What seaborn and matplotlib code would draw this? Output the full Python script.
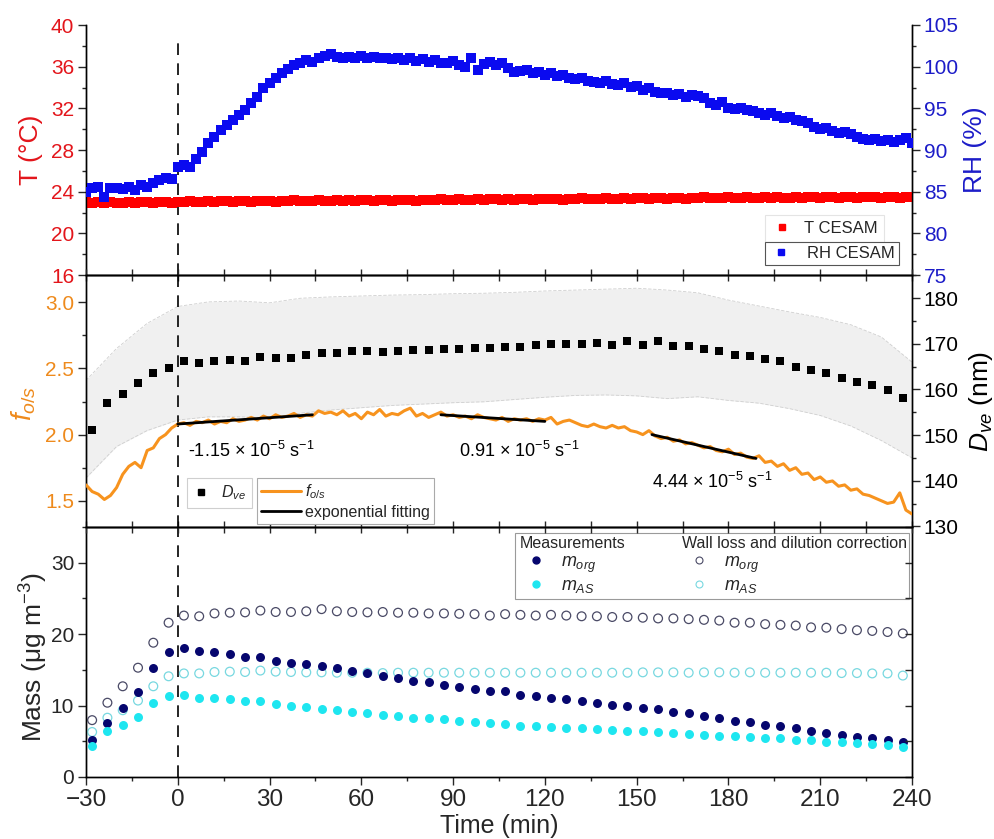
import numpy as np
import pandas as pd
import matplotlib
matplotlib.use("Agg")
import matplotlib.pyplot as plt
import seaborn as sns
from matplotlib.lines import Line2D
from matplotlib.patches import Rectangle
from matplotlib.ticker import MultipleLocator

# ---------------- data ----------------
# environmental chamber data, 2-min resolution, -30..240 min
t_env = np.arange(-30, 241, 2)
temp_c = [23.0, 22.9, 23.0, 22.9, 23.0, 22.9, 22.9, 23.0, 22.9, 23.0, 23.0, 22.9, 23.0, 23.0, 22.9, 23.0,
          23.0, 23.1, 23.0, 23.0, 23.1, 23.0, 23.1, 23.1, 23.0, 23.1, 23.1, 23.0, 23.1, 23.1, 23.1, 23.0, 23.1, 23.1, 23.2, 23.1,
          23.1, 23.1, 23.2, 23.1, 23.1, 23.2, 23.1, 23.2, 23.1, 23.2, 23.2, 23.1, 23.2, 23.2, 23.1, 23.2, 23.2, 23.2, 23.1, 23.2,
          23.2, 23.2, 23.3, 23.2, 23.2, 23.3, 23.2, 23.2, 23.3, 23.2, 23.3, 23.3, 23.2, 23.3, 23.2, 23.3, 23.3, 23.2, 23.3, 23.3,
          23.3, 23.3, 23.2, 23.3, 23.3, 23.4, 23.3, 23.3, 23.3, 23.4, 23.3, 23.3, 23.4, 23.3, 23.4, 23.4, 23.3, 23.4, 23.4, 23.3,
          23.4, 23.4, 23.3, 23.4, 23.4, 23.5, 23.4, 23.4, 23.4, 23.5, 23.4, 23.4, 23.5, 23.4, 23.4, 23.5, 23.4, 23.5, 23.4, 23.4,
          23.5, 23.4, 23.5, 23.5, 23.4, 23.5, 23.5, 23.4, 23.5, 23.5, 23.4, 23.5, 23.5, 23.5, 23.4, 23.5, 23.5, 23.4, 23.5, 23.5]
rh_pct = [85.0, 85.5, 85.6, 84.4, 85.4, 85.5, 85.3, 85.6, 85.2, 85.8, 85.6, 86.0, 86.4, 86.6, 86.5, 88.0,
          88.2, 88.0, 88.9, 89.8, 90.8, 91.6, 92.4, 93.0, 93.6, 94.2, 94.8, 95.6, 96.4, 97.4, 98.0, 98.6, 99.2, 99.7, 100.2, 100.5,
          100.8, 100.6, 101.0, 101.3, 101.5, 101.2, 101.0, 101.2, 101.1, 101.3, 101.0, 101.2, 101.1, 101.0, 100.9, 101.1, 100.8, 101.0, 100.7, 100.9,
          100.6, 100.8, 100.5, 100.4, 100.7, 100.2, 100.0, 101.0, 99.6, 100.3, 100.6, 100.2, 100.4, 99.8, 99.4, 99.5, 99.6, 99.3, 99.4, 99.0,
          99.2, 98.9, 99.0, 98.6, 98.5, 98.7, 98.3, 98.2, 98.0, 98.3, 97.9, 97.8, 98.0, 97.6, 97.7, 97.2, 97.5, 97.0, 96.8, 96.9,
          96.6, 96.7, 96.4, 96.6, 96.5, 96.2, 95.6, 95.4, 95.8, 95.0, 94.9, 95.0, 94.8, 94.7, 94.5, 94.2, 94.4, 94.1, 93.8, 94.0,
          93.6, 93.5, 93.2, 92.8, 92.5, 92.7, 92.3, 92.0, 92.2, 91.9, 91.6, 91.3, 91.2, 91.3, 91.1, 91.2, 91.0, 91.2, 91.4, 90.9]
f_os = [1.62, 1.57, 1.55, 1.51, 1.54, 1.60, 1.70, 1.76, 1.79, 1.75, 1.88, 1.90, 1.97, 2.00, 2.05, 2.08,
        2.09, 2.07, 2.10, 2.09, 2.11, 2.08, 2.10, 2.09, 2.12, 2.10, 2.11, 2.13, 2.11, 2.14, 2.12, 2.15, 2.13, 2.14, 2.16, 2.13,
        2.15, 2.14, 2.18, 2.16, 2.17, 2.15, 2.18, 2.14, 2.16, 2.12, 2.17, 2.15, 2.19, 2.14, 2.16, 2.15, 2.18, 2.20, 2.14, 2.16,
        2.13, 2.15, 2.17, 2.14, 2.15, 2.13, 2.14, 2.12, 2.15, 2.13, 2.12, 2.11, 2.13, 2.10, 2.12, 2.11, 2.12, 2.10, 2.12, 2.11,
        2.13, 2.08, 2.10, 2.11, 2.09, 2.07, 2.06, 2.08, 2.06, 2.05, 2.07, 2.05, 2.06, 2.03, 2.02, 2.00, 2.03, 1.99, 1.97, 1.98,
        1.95, 1.96, 1.93, 1.94, 1.92, 1.90, 1.91, 1.88, 1.87, 1.89, 1.85, 1.86, 1.83, 1.82, 1.84, 1.79, 1.80, 1.76, 1.78, 1.73,
        1.75, 1.70, 1.71, 1.66, 1.68, 1.64, 1.65, 1.61, 1.62, 1.58, 1.59, 1.55, 1.54, 1.52, 1.50, 1.48, 1.49, 1.56, 1.43, 1.40]

# exponential fitting segments (start/end time, start/end f_o/s)
fit_t = [[0, 44], [86, 120], [155, 189]]
fit_f = [[2.08, 2.15], [2.15, 2.10], [2.00, 1.82]]
fit_labels = ["-1.15 × 10$^{-5}$ s$^{-1}$", "0.91 × 10$^{-5}$ s$^{-1}$", "4.44 × 10$^{-5}$ s$^{-1}$"]
fit_label_pos = [(3.3, 1.88), (92.0, 1.88), (155.0, 1.64)]

# particle sampling times (5-min)
t_samp = np.arange(-28, 238, 5)
d_ve = [151.1, 157.0, 159.1, 161.4, 163.6, 164.7, 166.3, 165.7, 166.2, 166.4, 166.3, 167.1, 166.8, 167.0,
        167.6, 167.9, 168.1, 168.4, 168.4, 168.2, 168.5, 168.7, 168.7, 168.9, 168.9, 169.0, 169.2, 169.4,
        169.4, 169.8, 170.0, 170.0, 170.0, 170.1, 169.7, 170.6, 169.8, 170.6, 169.6, 169.6, 168.9, 168.4,
        167.5, 167.35, 166.6, 166.3, 165.0, 164.3, 163.6, 162.6, 161.7, 161.0, 159.9, 158.2]
# D_ve spread band, 10-min grid
t_band = np.arange(-30, 241, 10)
d_hi = [162.0, 169.0, 174.5, 178.2, 179.2, 179.4, 179.0, 180.0, 180.3, 180.5, 180.7, 180.8, 181.0, 181.1,
        181.3, 181.6, 181.8, 182.0, 182.2, 181.8, 181.2, 179.6, 178.3, 177.0, 175.8, 174.2, 171.5, 166.0]
d_lo = [140.6, 147.5, 151.0, 153.3, 154.0, 154.0, 153.8, 154.8, 155.5, 156.0, 156.5, 156.8, 157.1, 157.3,
        157.8, 158.3, 158.7, 158.8, 158.6, 158.0, 158.4, 157.6, 157.0, 155.8, 154.3, 152.0, 148.8, 145.0]

m_org = [5.2, 7.5, 9.7, 11.9, 15.2, 17.5, 18.1, 17.6, 17.5, 17.2, 16.8, 16.8, 16.25, 16.0,
         15.8, 15.6, 15.2, 14.9, 14.5, 14.2, 13.8, 13.5, 13.25, 12.95, 12.6, 12.35, 12.0, 12.0,
         11.5, 11.3, 11.1, 10.9, 10.6, 10.4, 10.1, 9.95, 9.65, 9.5, 9.1, 8.9, 8.55, 8.3,
         7.85, 7.7, 7.35, 7.1, 6.8, 6.4, 6.2, 5.95, 5.65, 5.45, 5.15, 4.95]
m_as = [4.4, 6.4, 7.3, 8.4, 10.3, 11.3, 11.5, 11.1, 11.1, 10.9, 10.6, 10.6, 10.2, 9.95,
        9.75, 9.5, 9.35, 9.1, 8.9, 8.7, 8.5, 8.3, 8.25, 8.1, 7.8, 7.65, 7.5, 7.45,
        7.2, 7.15, 7.0, 6.9, 6.85, 6.75, 6.55, 6.5, 6.4, 6.3, 6.2, 6.0, 5.95, 5.8,
        5.7, 5.65, 5.5, 5.4, 5.2, 5.15, 4.95, 4.85, 4.75, 4.6, 4.5, 4.15]
m_org_corr = [7.96, 10.4, 12.7, 15.3, 18.8, 21.6, 22.6, 22.5, 22.9, 23.0, 23.05, 23.3, 23.1, 23.1,
              23.2, 23.5, 23.2, 23.1, 23.05, 23.1, 23.0, 23.0, 22.9, 22.9, 22.85, 22.8, 22.6, 22.8,
              22.7, 22.6, 22.7, 22.6, 22.5, 22.5, 22.4, 22.4, 22.3, 22.2, 22.2, 22.1, 22.0, 21.9,
              21.6, 21.6, 21.4, 21.3, 21.2, 20.95, 20.9, 20.7, 20.55, 20.45, 20.3, 20.1]
m_as_corr = [6.3, 8.3, 9.35, 10.7, 12.7, 14.1, 14.5, 14.5, 14.7, 14.75, 14.7, 14.9, 14.75, 14.7,
             14.65, 14.65, 14.6, 14.6, 14.6, 14.55, 14.6, 14.6, 14.6, 14.6, 14.6, 14.6, 14.6, 14.6,
             14.6, 14.6, 14.6, 14.6, 14.6, 14.6, 14.6, 14.6, 14.65, 14.65, 14.65, 14.6, 14.65, 14.65,
             14.6, 14.65, 14.6, 14.6, 14.6, 14.6, 14.6, 14.55, 14.55, 14.5, 14.5, 14.2]

x_ticks = [-30, 0, 30, 60, 90, 120, 150, 180, 210, 240]

# ---------------- style ----------------
sns.set_theme(style="ticks")
plt.rcParams["font.family"] = ["Liberation Sans", "DejaVu Sans"]
plt.rcParams["mathtext.fontset"] = "custom"
plt.rcParams["mathtext.rm"] = "Liberation Sans"
plt.rcParams["mathtext.it"] = "Liberation Sans:italic"
plt.rcParams["mathtext.bf"] = "Liberation Sans:bold"
plt.rcParams["axes.edgecolor"] = "black"
plt.rcParams["axes.linewidth"] = 1.0

RED = "#FF0000"
RED_T = "#E3151B"
BLUE = "#0A0AF0"
BLUE_T = "#1C1CC8"
ORANGE = "#F7931E"
ORANGE_T = "#EE8A1C"
NAVY = "#06066E"
CYAN = "#1EE6F0"
OPEN_ORG = "#4A4A66"
OPEN_AS = "#78D8E0"

YT = 15
XT = 17.5
LAB = 19

fig = plt.figure(figsize=(9.94, 8.39), dpi=100)
L, W = 86 / 994, 826 / 994


def frame(top, bot):
    return [L, 1 - bot / 839, W, (bot - top) / 839]


ax_t = fig.add_axes(frame(25, 275))
ax_f = fig.add_axes(frame(275, 527))
ax_m = fig.add_axes(frame(527, 777))
ax_rh = ax_t.twinx()
ax_d = ax_f.twinx()
ax_m2 = ax_m.twinx()

for a in (ax_t, ax_f, ax_m):
    a.set_xlim(-30, 240)
    a.xaxis.set_major_locator(MultipleLocator(30))
    a.xaxis.set_minor_locator(MultipleLocator(15))

# ---------------- top panel ----------------
sns.scatterplot(x=t_env, y=temp_c, ax=ax_t, marker="s", s=42, color=RED, linewidth=0, zorder=3)
sns.scatterplot(x=t_env, y=rh_pct, ax=ax_rh, marker="s", s=50, color=BLUE, linewidth=0, zorder=3)
ax_t.set_ylim(16, 40)
ax_rh.set_ylim(75, 105)
ax_t.set_xlim(-30, 240)
ax_t.axvline(0, ymin=0, ymax=0.948, color="black", lw=1.2, ls=(0, (7, 5)))
ax_t.spines["top"].set_visible(False)
ax_rh.spines["top"].set_visible(False)
ax_t.yaxis.set_major_locator(MultipleLocator(4))
ax_t.yaxis.set_minor_locator(MultipleLocator(2))
ax_rh.yaxis.set_major_locator(MultipleLocator(5))
ax_rh.yaxis.set_minor_locator(MultipleLocator(2.5))
ax_t.tick_params(axis="y", which="major", direction="out", length=6, width=1, labelsize=YT, labelcolor=RED_T, pad=2.5)
ax_t.tick_params(axis="y", which="minor", direction="out", length=3, width=1)
ax_t.tick_params(axis="x", which="both", bottom=False, top=False, labelbottom=False)
ax_rh.tick_params(axis="y", which="major", direction="out", length=6, width=1, labelsize=YT, labelcolor=BLUE_T, pad=2.5)
ax_rh.tick_params(axis="y", which="minor", direction="out", length=3, width=1)
ax_t.set_ylabel("T (°C)", color=RED_T, fontsize=LAB)
ax_t.yaxis.set_label_coords(-0.052, 0.5)
ax_rh.set_ylabel("RH (%)", color=BLUE_T, fontsize=LAB)
ax_rh.yaxis.set_label_coords(1.062, 0.5)
ax_t.set_xlabel("")

hT = Line2D([], [], marker="s", color=RED, linestyle="none", markersize=5)
hRH = Line2D([], [], marker="s", color=BLUE, linestyle="none", markersize=5)
legT = ax_rh.legend([hT], ["T CESAM"], loc="upper left", bbox_to_anchor=(0.822, 0.24), fontsize=12,
                    frameon=True, fancybox=False, edgecolor="#E4E4E4", framealpha=1, borderaxespad=0,
                    handlelength=1.4, handletextpad=0.6, borderpad=0.35)
legT.get_frame().set_linewidth(0.8)
ax_rh.add_artist(legT)
legRH = ax_rh.legend([hRH], ["RH CESAM"], loc="upper left", bbox_to_anchor=(0.822, 0.133), fontsize=12,
                     frameon=True, fancybox=False, edgecolor="#555555", framealpha=1, borderaxespad=0,
                     handlelength=1.4, handletextpad=0.9, borderpad=0.25)
legRH.get_frame().set_linewidth(0.8)

# ---------------- middle panel ----------------
ax_f.set_zorder(ax_d.get_zorder() + 1)
ax_f.patch.set_visible(False)
ax_d.fill_between(t_band, d_lo, d_hi, color="#F0F0F0", lw=0, zorder=0)
sns.lineplot(x=t_band, y=d_hi, ax=ax_d, color="#CFCFCF", lw=0.6, linestyle=(0, (4, 2)), zorder=1)
sns.lineplot(x=t_band, y=d_lo, ax=ax_d, color="#CFCFCF", lw=0.6, linestyle=(0, (4, 2)), zorder=1)
sns.scatterplot(x=t_samp, y=d_ve, ax=ax_d, marker="s", s=26, color="black", linewidth=0, zorder=3)
ax_d.set_ylim(129.85, 185.1)

sns.lineplot(x=t_env, y=f_os, ax=ax_f, color=ORANGE, lw=2.2, zorder=3)
for ts, fs in zip(fit_t, fit_f):
    sns.lineplot(x=ts, y=fs, ax=ax_f, color="black", lw=2.0, zorder=4)
for lab, (tx, fy) in zip(fit_labels, fit_label_pos):
    ax_f.text(tx, fy, lab, fontsize=13, ha="left", va="center", color="black", zorder=6)
ax_f.axvline(0, color="black", lw=1.2, ls=(0, (7, 5)), zorder=2)
ax_f.set_ylim(1.302, 3.206)
ax_f.set_xlim(-30, 240)
ax_f.yaxis.set_major_locator(MultipleLocator(0.5))
ax_f.yaxis.set_minor_locator(MultipleLocator(0.25))
ax_d.yaxis.set_major_locator(MultipleLocator(10))
ax_d.yaxis.set_minor_locator(MultipleLocator(5))
ax_f.tick_params(axis="y", which="major", direction="out", length=6, width=1, labelsize=YT, labelcolor=ORANGE_T, pad=2.5)
ax_f.tick_params(axis="y", which="minor", direction="out", length=3, width=1)
ax_f.tick_params(axis="x", which="both", direction="inout", length=9, width=1, top=True, bottom=True,
                 labelbottom=False, labeltop=False)
ax_d.tick_params(axis="y", which="major", direction="out", length=6, width=1, labelsize=YT, labelcolor="black", pad=2.5)
ax_d.tick_params(axis="y", which="minor", direction="out", length=3, width=1)
ax_f.set_ylabel("$f_{o/s}$", color=ORANGE_T, fontsize=LAB + 1)
ax_f.yaxis.set_label_coords(-0.058, 0.49)
ax_d.set_ylabel("$D_{ve}$ (nm)", color="black", fontsize=LAB)
ax_d.yaxis.set_label_coords(1.066, 0.5)
ax_f.set_xlabel("")

hD = Line2D([], [], marker="s", color="black", linestyle="none", markersize=5)
legD = ax_f.legend([hD], ["$D_{ve}$"], loc="upper left", bbox_to_anchor=(0.1223, 0.194), fontsize=11.5,
                   frameon=True, fancybox=False, edgecolor="#CFCFCF", framealpha=1, borderaxespad=0,
                   handlelength=1.1, handletextpad=0.7, borderpad=0.35)
legD.get_frame().set_linewidth(0.8)
ax_f.add_artist(legD)
hF = Line2D([], [], color=ORANGE, lw=2.2)
hFit = Line2D([], [], color="black", lw=2.0)
legF = ax_f.legend([hF, hFit], ["$f_{o/s}$", "exponential fitting"], loc="upper left",
                   bbox_to_anchor=(0.207, 0.194), fontsize=11.5, frameon=True, fancybox=False,
                   edgecolor="#AAAAAA", framealpha=1, borderaxespad=0, handlelength=2.5,
                   handletextpad=0.25, borderpad=0.25, labelspacing=0.25)
legF.get_frame().set_linewidth(0.8)

# ---------------- bottom panel ----------------
sns.scatterplot(x=t_samp, y=m_org_corr, ax=ax_m, marker="o", s=40, facecolor="none", edgecolor=OPEN_ORG, linewidth=0.9, zorder=3)
sns.scatterplot(x=t_samp, y=m_as_corr, ax=ax_m, marker="o", s=40, facecolor="none", edgecolor=OPEN_AS, linewidth=0.9, zorder=3)
sns.scatterplot(x=t_samp, y=m_org, ax=ax_m, marker="o", s=42, color=NAVY, linewidth=0, zorder=4)
sns.scatterplot(x=t_samp, y=m_as, ax=ax_m, marker="o", s=42, color=CYAN, linewidth=0, zorder=4)
ax_m.axvline(0, color="black", lw=1.2, ls=(0, (7, 5)), zorder=2)
ax_m.set_ylim(0, 35)
ax_m2.set_ylim(0, 35)
ax_m.set_xlim(-30, 240)
ax_m.set_xticks(x_ticks)
ax_m.yaxis.set_major_locator(MultipleLocator(10))
ax_m.yaxis.set_minor_locator(MultipleLocator(5))
ax_m2.yaxis.set_major_locator(MultipleLocator(5))
ax_m2.yaxis.set_minor_locator(MultipleLocator(5))
ax_m.tick_params(axis="y", which="major", direction="out", length=6, width=1, labelsize=YT, pad=2.5)
ax_m.tick_params(axis="y", which="minor", direction="out", length=3, width=1)
ax_m.tick_params(axis="x", which="major", direction="out", length=6, width=1, labelsize=XT, pad=3, top=False)
ax_m.tick_params(axis="x", which="minor", direction="out", length=3, width=1, top=False)
ax_m2.tick_params(axis="y", which="both", direction="in", length=5, width=1, labelright=False)
ax_m.set_ylabel("Mass (μg m$^{-3}$)", fontsize=LAB)
ax_m.yaxis.set_label_coords(-0.044, 0.48)
ax_m.set_xlabel("Time (min)", fontsize=LAB - 1, labelpad=2)

h_mo = Line2D([], [], marker="o", color=NAVY, linestyle="none", markersize=5)
h_ma = Line2D([], [], marker="o", color=CYAN, linestyle="none", markersize=5)
h_mo_c = Line2D([], [], marker="o", markerfacecolor="none", markeredgecolor=OPEN_ORG, linestyle="none", markersize=5, markeredgewidth=0.8)
h_ma_c = Line2D([], [], marker="o", markerfacecolor="none", markeredgecolor=OPEN_AS, linestyle="none", markersize=5, markeredgewidth=0.8)
leg_kw = dict(loc="upper left", frameon=False, fontsize=13, title_fontsize=11.5, borderaxespad=0,
              borderpad=0, handlelength=1.8, handletextpad=0.5, labelspacing=0.12, alignment="left")
legA = ax_m.legend([h_mo, h_ma], ["$m_{org}$", "$m_{AS}$"], title="Measurements",
                   bbox_to_anchor=(0.525, 0.962), **leg_kw)
ax_m.add_artist(legA)
legB = ax_m.legend([h_mo_c, h_ma_c], ["$m_{org}$", "$m_{AS}$"], title="Wall loss and dilution correction",
                   bbox_to_anchor=(0.722, 0.962), **leg_kw)
ax_m.add_patch(Rectangle((0.519, 0.712), 0.996 - 0.519, 0.978 - 0.712, transform=ax_m.transAxes,
                         fill=True, facecolor="white", edgecolor="#9A9A9A", lw=0.8, zorder=5))
legA.set_zorder(6)
legB.set_zorder(6)

fig.savefig("out.png", dpi=100)
